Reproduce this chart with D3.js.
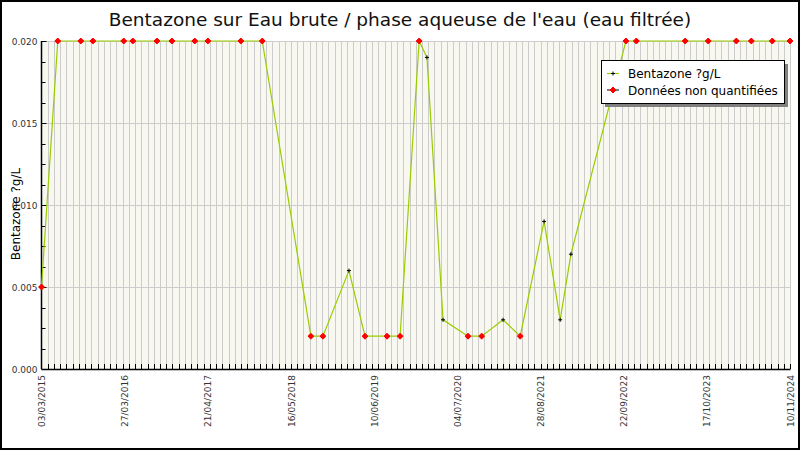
<!DOCTYPE html>
<html><head><meta charset="utf-8">
<script src="https://cdn.jsdelivr.net/npm/d3@7/dist/d3.min.js"></script>
<style>body{margin:0;background:#fff}svg{display:block}</style>
</head><body>
<script>
// ---- data ----
const titleText = "Bentazone sur Eau brute / phase aqueuse de l'eau (eau filtrée)";
const yAxisTitle = "Bentazone ?g/L";
const seriesNames = ["Bentazone ?g/L", "Données non quantifiées"];
const sampleDates = [
  "2015-03-03","2015-05-19","2015-09-05","2015-11-01","2016-03-26","2016-05-08",
  "2016-08-30","2016-11-09","2017-02-25","2017-04-28","2017-10-01","2018-01-10",
  "2018-08-28","2018-10-24","2019-02-24","2019-05-11","2019-08-23","2019-10-24",
  "2020-01-22","2020-02-28","2020-05-14","2020-09-09","2020-11-13","2021-02-22",
  "2021-05-14","2021-09-04","2021-11-19","2022-01-09","2022-09-26","2022-11-14",
  "2023-07-03","2023-10-20","2024-03-01","2024-05-11","2024-08-18","2024-11-10"
];
const sampleValues = [
  0.005,0.020,0.020,0.020,0.020,0.020,
  0.020,0.020,0.020,0.020,0.020,0.020,
  0.002,0.002,0.006,0.002,0.002,0.002,
  0.020,0.019,0.003,0.002,0.002,0.003,
  0.002,0.009,0.003,0.007,0.020,0.020,
  0.020,0.020,0.020,0.020,0.020,0.020
];
// "NQ" = donnée non quantifiée, "Q" = quantifiée
const sampleFlags = [
  "NQ","NQ","NQ","NQ","NQ","NQ",
  "NQ","NQ","NQ","NQ","NQ","NQ",
  "NQ","NQ","Q","NQ","NQ","NQ",
  "NQ","Q","Q","NQ","NQ","Q",
  "NQ","Q","Q","Q","NQ","NQ",
  "NQ","NQ","NQ","NQ","NQ","NQ"
];
const xTickLabels = ["03/03/2015","27/03/2016","21/04/2017","16/05/2018","10/06/2019",
  "04/07/2020","28/08/2021","22/09/2022","17/10/2023","10/11/2024"];
const xDomain = ["2015-03-03","2024-11-10"];
const yTicks = [0, 0.005, 0.010, 0.015, 0.020];
const yDomain = [0, 0.020];

// ---- drawing ----
const W = 800, H = 450;
const L = 41.5, R = 790, T = 41, B = 369;
const parse = d3.utcParse("%Y-%m-%d");
const data = sampleDates.map((d, i) => ({date: parse(d), value: sampleValues[i], flag: sampleFlags[i]}));

const x = d3.scaleUtc().domain(xDomain.map(parse)).range([L, R]);
const y = d3.scaleLinear().domain(yDomain).range([B, T]);

const svg = d3.select("body").append("svg").attr("width", W).attr("height", H);
svg.append("rect").attr("x", 0).attr("y", 0).attr("width", W).attr("height", H).attr("fill", "#fff");

// plot background
svg.append("rect").attr("x", L).attr("y", T).attr("width", R - L).attr("height", B - T).attr("fill", "#f8f8f0");

const t0 = x.domain()[0].getTime(), t1 = x.domain()[1].getTime();
const minorX = d3.range(1, 121).map(i => new Date(t0 + i * (t1 - t0) / 120));
const majorX = d3.range(0, 10).map(i => new Date(t0 + i * (t1 - t0) / 9));

// vertical grid
svg.append("g").selectAll("line").data(minorX).join("line")
  .attr("x1", d => Math.round(x(d)) + 0.5).attr("x2", d => Math.round(x(d)) + 0.5)
  .attr("y1", T).attr("y2", B)
  .attr("stroke", "#cccccc").attr("stroke-width", 1);
// horizontal grid
svg.append("g").selectAll("line").data(yTicks.slice(1)).join("line")
  .attr("x1", L).attr("x2", R)
  .attr("y1", d => Math.round(y(d)) + 0.5).attr("y2", d => Math.round(y(d)) + 0.5)
  .attr("stroke", "#cccccc").attr("stroke-width", 1);

// y axis
const yMinor = d3.range(0, 17).map(i => yDomain[0] + i * (yDomain[1] - yDomain[0]) / 16);
const gy = svg.append("g").attr("transform", `translate(${L},0)`);
gy.append("line").attr("x1", 0).attr("x2", 0).attr("y1", T).attr("y2", B).attr("stroke", "#000").attr("stroke-width", 1.5);
gy.selectAll("line.tk").data(yMinor).join("line").attr("class", "tk")
  .attr("x1", 0).attr("x2", (d, i) => i % 4 === 0 ? 5 : 4)
  .attr("y1", d => Math.round(y(d)) + 0.5).attr("y2", d => Math.round(y(d)) + 0.5)
  .attr("stroke", "#000").attr("stroke-width", 1);
gy.selectAll("text").data(yTicks).join("text")
  .attr("x", -4).attr("y", d => y(d) + 3.5)
  .attr("text-anchor", "end")
  .attr("font-family", "DejaVu Sans").attr("font-size", 9).attr("fill", "#333")
  .text(d3.format(".3f"));

// x axis
const gx = svg.append("g");
gx.append("line").attr("x1", L).attr("x2", R + 0.5).attr("y1", B + 0.5).attr("y2", B + 0.5).attr("stroke", "#000").attr("stroke-width", 1.5);
gx.selectAll("line.tk").data(minorX).join("line").attr("class", "tk")
  .attr("x1", d => Math.round(x(d)) + 0.5).attr("x2", d => Math.round(x(d)) + 0.5)
  .attr("y1", B).attr("y2", B - 5)
  .attr("stroke", "#000").attr("stroke-width", 1);
gx.selectAll("text").data(majorX).join("text")
  .attr("transform", d => `translate(${x(d) + 3.5},${B + 6}) rotate(-90)`)
  .attr("text-anchor", "end")
  .attr("font-family", "DejaVu Sans").attr("font-size", 9).attr("fill", "#333")
  .text((d, i) => xTickLabels[i]);

// line
const line = d3.line().x(d => x(d.date)).y(d => y(d.value));
svg.append("path").datum(data).attr("d", line)
  .attr("fill", "none").attr("stroke", "#99cc00").attr("stroke-width", 1.2);

// markers
function plus(g, cx, cy, s, color, w) {
  g.append("line").attr("x1", cx - s).attr("x2", cx + s).attr("y1", cy).attr("y2", cy).attr("stroke", color).attr("stroke-width", w);
  g.append("line").attr("x1", cx).attr("x2", cx).attr("y1", cy - s).attr("y2", cy + s).attr("stroke", color).attr("stroke-width", w);
}
const gm = svg.append("g");
data.forEach(d => {
  if (d.flag === "NQ") {
    const cx = x(d.date), cy = y(d.value);
    plus(gm, cx, cy, 3, "#ff0000", 2);
    gm.append("rect").attr("x", cx - 2).attr("y", cy - 2).attr("width", 4).attr("height", 4).attr("fill", "#ff0000");
  } else {
    plus(gm, x(d.date), y(d.value), 2, "#000", 1);
  }
});

// title
svg.append("text").attr("x", 400).attr("y", 26).attr("text-anchor", "middle")
  .attr("font-family", "DejaVu Sans").attr("font-size", 18.5).attr("fill", "#111")
  .text(titleText);

// y axis title
svg.append("text").attr("transform", "translate(20,214) rotate(-90)").attr("text-anchor", "middle")
  .attr("font-family", "DejaVu Sans").attr("font-size", 12).attr("fill", "#000")
  .text(yAxisTitle);

// legend
const lg = svg.append("g");
lg.append("rect").attr("x", 605).attr("y", 64).attr("width", 183).attr("height", 43).attr("fill", "#808080");
lg.append("rect").attr("x", 601.5).attr("y", 60.5).attr("width", 183).attr("height", 43).attr("fill", "#fff").attr("stroke", "#000").attr("stroke-width", 1);
lg.append("line").attr("x1", 607).attr("x2", 619).attr("y1", 73.5).attr("y2", 73.5).attr("stroke", "#99cc00").attr("stroke-width", 1.2);
plus(lg, 613, 73.5, 2, "#000", 1);
lg.append("line").attr("x1", 607).attr("x2", 619).attr("y1", 90).attr("y2", 90).attr("stroke", "#000").attr("stroke-width", 1);
plus(lg, 613, 90, 3, "#ff0000", 2);
lg.append("rect").attr("x", 611).attr("y", 88).attr("width", 4).attr("height", 4).attr("fill", "#ff0000");
lg.selectAll("text").data(seriesNames).join("text")
  .attr("x", 628).attr("y", (d, i) => 78 + i * 16.5)
  .attr("font-family", "DejaVu Sans").attr("font-size", 12).attr("fill", "#000")
  .text(d => d);

// outer frame
svg.append("rect").attr("x", 1).attr("y", 1).attr("width", W - 2).attr("height", H - 2)
  .attr("fill", "none").attr("stroke", "#000").attr("stroke-width", 2);
</script>
</body></html>
